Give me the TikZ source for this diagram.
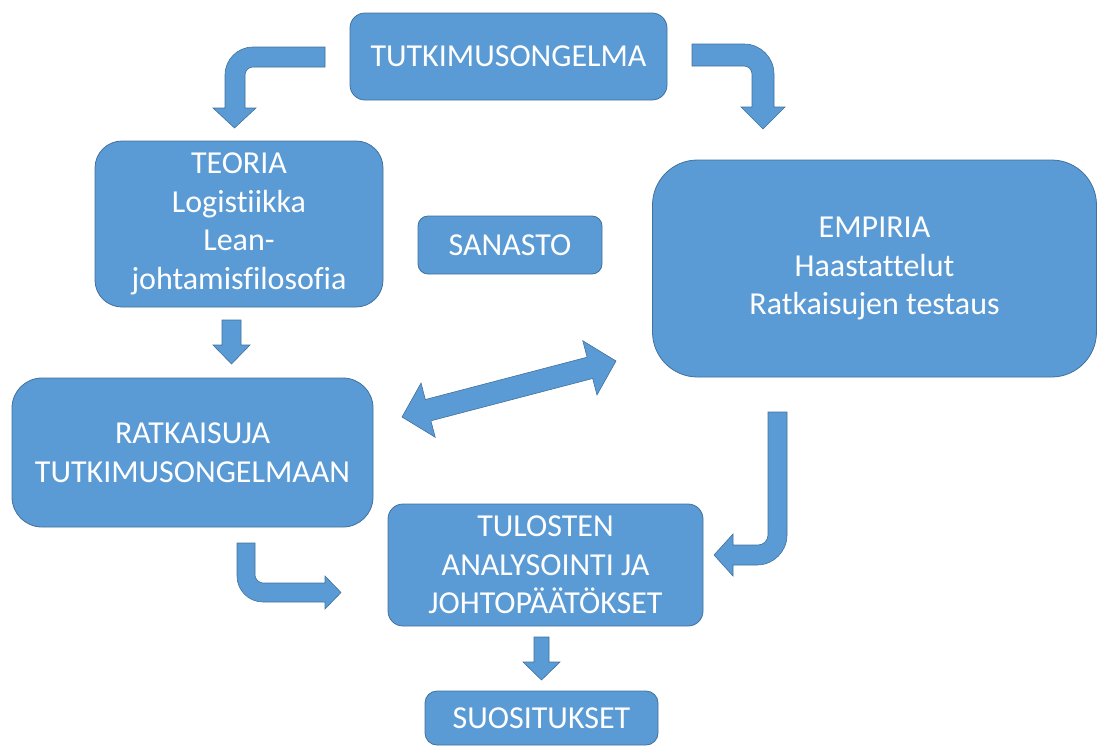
\documentclass[tikz,border=0pt]{standalone}
\usepackage{fontspec}
\setmainfont{Carlito}[RawFeature={-liga;-clig}]
\definecolor{boxfill}{HTML}{5B9BD5}
\definecolor{boxedge}{HTML}{41719C}
\tikzset{
  box/.style={draw=boxedge, line width=0.8pt, fill=boxfill, text=white,
    align=center, inner sep=0pt,
    font=\fontsize{32}{38.5}\selectfont},
  blockarrow/.style={draw=boxedge, line width=0.6pt, fill=boxfill, line join=miter},
}
\begin{document}
\begin{tikzpicture}[x=1pt, y=-1pt]
\useasboundingbox (0,0) rectangle (1098,747);

% process boxes
\node[box, minimum width=317pt, minimum height=87pt, rounded corners=15pt]
  (prob) at (508.5,56.5) {TUTKIMUSONGELMA};
\node[box, minimum width=288pt, minimum height=166pt, rounded corners=27pt]
  (teoria) at (239,224) {TEORIA\\Logistiikka\\Lean-\\johtamisfilosofia};
\node[box, minimum width=184pt, minimum height=58pt, rounded corners=10pt]
  (sanasto) at (510,245) {SANASTO};
\node[box, minimum width=444pt, minimum height=217pt, rounded corners=45pt]
  (empiria) at (874.5,268.5) {EMPIRIA\\Haastattelut\\Ratkaisujen testaus};
\node[box, minimum width=361pt, minimum height=149pt, rounded corners=30pt]
  (ratk) at (192.5,452.5) {RATKAISUJA\\TUTKIMUSONGELMAAN};
\node[box, minimum width=315pt, minimum height=122pt, rounded corners=15pt]
  (tulos) at (545.5,565) {TULOSTEN\\ANALYSOINTI JA\\JOHTOPÄÄTÖKSET};
\node[box, minimum width=233pt, minimum height=54pt, rounded corners=12pt]
  (suos) at (541.5,718) {SUOSITUKSET};

% bent arrow: problem -> theory
\draw[blockarrow] (325,47) -- (253,47) .. controls (237.5,47) and (225,59.5) .. (225,75)
  -- (225,108) -- (213,108) -- (234.5,128) -- (256,108) -- (245,108) -- (245,75)
  .. controls (245,70.6) and (248.6,67) .. (253,67) -- (325,67) -- cycle;

% bent arrow: problem -> empiria
\draw[blockarrow] (692,44) -- (744,44) .. controls (760.6,44) and (774,57.4) .. (774,74)
  -- (774,107) -- (785,107) -- (763,129) -- (741,107) -- (752,107) -- (752,74)
  .. controls (752,69.6) and (748.4,66) .. (744,66) -- (692,66) -- cycle;

% straight arrow: theory -> solutions
\draw[blockarrow] (222,320) -- (241,320) -- (241,345) -- (250,345) -- (231.5,364)
  -- (213,345) -- (222,345) -- cycle;

% double arrow: solutions <-> empiria
\draw[blockarrow] (402,417) -- (421.03,383.07) -- (425.34,399.52) -- (587.09,357.20)
  -- (582.79,340.75) -- (616,361) -- (596.97,394.93) -- (592.67,378.48)
  -- (430.91,420.80) -- (435.21,437.25) -- cycle;

% bent arrow: empiria -> analysis
\draw[blockarrow] (768,412) -- (787,412) -- (787,535)
  .. controls (787,551.57) and (773.57,565) .. (757,565) -- (733,565) -- (733,576)
  -- (714,555) -- (733,534) -- (733,545) -- (758,545)
  .. controls (763.52,545) and (768,540.52) .. (768,535) -- cycle;

% bent arrow: solutions -> analysis
\draw[blockarrow] (237,543) -- (255,543) -- (255,575)
  .. controls (255,579.42) and (259.42,583) .. (263,583) -- (325,583) -- (325,576)
  -- (341,592.5) -- (325,609) -- (325,602) -- (263,602)
  .. controls (248.64,602) and (237,590.36) .. (237,576) -- cycle;

% straight arrow: analysis -> recommendations
\draw[blockarrow] (534,637) -- (549,637) -- (549,662) -- (560,662) -- (541.5,680)
  -- (523,662) -- (534,662) -- cycle;
\end{tikzpicture}
\end{document}
